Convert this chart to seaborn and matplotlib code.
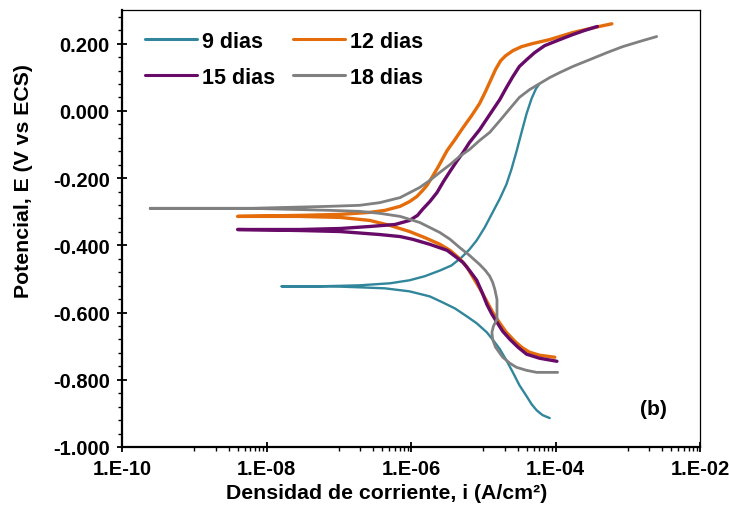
import numpy as np
import pandas as pd
import matplotlib
matplotlib.use("Agg")
import matplotlib.pyplot as plt
from matplotlib.ticker import FixedLocator, FuncFormatter, MultipleLocator
from matplotlib.lines import Line2D
import seaborn as sns

# Curvas de polarización potenciodinámica: log10(i) con i en A/cm², E en V vs ECS
series = ["9 dias", "12 dias", "15 dias", "18 dias"]
colores = ["#31869B", "#E46C0A", "#680A68", "#808080"]
grosores = [1.7, 2.4, 2.4, 2.0]

# 9 días
logi_anod_9 = [-7.79, -7.26, -6.71, -6.29, -6.02, -5.81, -5.60, -5.44, -5.30, -5.19, -5.09,
               -4.98, -4.87, -4.77, -4.68, -4.61, -4.54, -4.47, -4.40, -4.33, -4.27, -4.23]
E_anod_9 = [-0.522, -0.522, -0.519, -0.513, -0.504, -0.492, -0.475, -0.460, -0.436, -0.412, -0.385,
            -0.347, -0.302, -0.261, -0.219, -0.174, -0.121, -0.064, -0.008, 0.037, 0.066, 0.078]
logi_cat_9 = [-7.79, -7.12, -6.71, -6.36, -6.02, -5.74, -5.56, -5.39, -5.23, -5.09, -4.95,
              -4.86, -4.77, -4.68, -4.59, -4.50, -4.40, -4.33, -4.26, -4.18, -4.08]
E_cat_9 = [-0.522, -0.522, -0.525, -0.528, -0.537, -0.552, -0.570, -0.588, -0.611, -0.632, -0.659,
           -0.683, -0.709, -0.742, -0.778, -0.816, -0.849, -0.873, -0.891, -0.905, -0.914]

# 12 días
logi_anod_12 = [-8.40, -7.54, -6.98, -6.57, -6.36, -6.15, -6.02, -5.92, -5.84, -5.78, -5.71,
                -5.63, -5.50, -5.39, -5.28, -5.16, -5.05, -4.97, -4.90, -4.83, -4.76, -4.69,
                -4.59, -4.47, -4.32, -4.08, -3.76, -3.46, -3.22]
E_anod_12 = [-0.314, -0.311, -0.308, -0.302, -0.296, -0.284, -0.270, -0.255, -0.237, -0.222, -0.198,
             -0.169, -0.118, -0.085, -0.050, -0.014, 0.022, 0.057, 0.090, 0.123, 0.149, 0.164,
             0.179, 0.191, 0.200, 0.212, 0.233, 0.248, 0.259]
logi_cat_12 = [-8.40, -7.54, -6.98, -6.57, -6.29, -6.02, -5.81, -5.60, -5.46, -5.33, -5.23,
               -5.15, -5.05, -4.95, -4.87, -4.77, -4.68, -4.56, -4.47, -4.36, -4.22, -4.01]
E_cat_12 = [-0.314, -0.314, -0.317, -0.326, -0.341, -0.359, -0.377, -0.397, -0.415, -0.439, -0.463,
            -0.492, -0.528, -0.567, -0.599, -0.632, -0.659, -0.686, -0.703, -0.718, -0.727, -0.733]

# 15 días
logi_anod_15 = [-8.40, -7.54, -6.98, -6.57, -6.22, -6.02, -5.91, -5.84, -5.74, -5.64, -5.55,
                -5.46, -5.37, -5.28, -5.19, -5.05, -4.91, -4.77, -4.68, -4.59, -4.50, -4.40,
                -4.29, -4.15, -3.94, -3.76, -3.60, -3.42]
E_anod_15 = [-0.353, -0.353, -0.350, -0.344, -0.338, -0.326, -0.311, -0.293, -0.270, -0.243, -0.210,
             -0.180, -0.151, -0.124, -0.094, -0.056, -0.011, 0.034, 0.069, 0.102, 0.132, 0.152,
             0.173, 0.194, 0.212, 0.227, 0.239, 0.251]
logi_cat_15 = [-8.40, -7.54, -6.98, -6.43, -6.15, -5.98, -5.74, -5.50, -5.37, -5.28, -5.19,
               -5.09, -5.01, -4.95, -4.88, -4.81, -4.73, -4.63, -4.52, -4.40, -4.22, -3.98]
E_cat_15 = [-0.353, -0.356, -0.359, -0.368, -0.374, -0.382, -0.397, -0.415, -0.436, -0.451, -0.475,
            -0.504, -0.543, -0.576, -0.605, -0.629, -0.656, -0.680, -0.703, -0.724, -0.736, -0.745]

# 18 días
logi_anod_18 = [-9.61, -8.23, -7.12, -6.71, -6.43, -6.15, -5.88, -5.74, -5.60, -5.46, -5.33,
                -5.19, -5.05, -4.91, -4.77, -4.63, -4.50, -4.36, -4.22, -4.08, -3.94, -3.76,
                -3.53, -3.29, -3.07, -2.84, -2.60]
E_anod_18 = [-0.290, -0.290, -0.284, -0.281, -0.273, -0.258, -0.228, -0.207, -0.183, -0.160, -0.136,
             -0.115, -0.088, -0.064, -0.029, 0.007, 0.040, 0.063, 0.081, 0.099, 0.114, 0.132,
             0.152, 0.173, 0.191, 0.206, 0.221]
logi_cat_18 = [-9.61, -8.23, -7.12, -6.71, -6.43, -6.15, -5.88, -5.60, -5.46, -5.33, -5.19,
               -5.05, -4.97, -4.91, -4.87, -4.84, -4.81, -4.81, -4.81, -4.86, -4.88, -4.87,
               -4.83, -4.73, -4.63, -4.54, -4.40, -4.26, -3.97]
E_cat_18 = [-0.290, -0.290, -0.296, -0.299, -0.305, -0.314, -0.332, -0.362, -0.382, -0.406, -0.430,
            -0.457, -0.475, -0.492, -0.510, -0.531, -0.561, -0.590, -0.620, -0.641, -0.659, -0.680,
            -0.703, -0.733, -0.751, -0.763, -0.772, -0.778, -0.778]

ramas = {
    "9 dias": (logi_cat_9, E_cat_9, logi_anod_9, E_anod_9),
    "12 dias": (logi_cat_12, E_cat_12, logi_anod_12, E_anod_12),
    "15 dias": (logi_cat_15, E_cat_15, logi_anod_15, E_anod_15),
    "18 dias": (logi_cat_18, E_cat_18, logi_anod_18, E_anod_18),
}

# Cada curva se recorre desde el extremo catódico, pasando por Ecorr, hasta el anódico
filas = []
for s in series:
    lc, Ec, la, Ea = ramas[s]
    l_tot = list(lc[::-1]) + list(la[1:])
    E_tot = list(Ec[::-1]) + list(Ea[1:])
    for k, (lv, ev) in enumerate(zip(l_tot, E_tot)):
        filas.append({"serie": s, "orden": k, "i": 10.0 ** lv, "E": ev})
df = pd.DataFrame(filas)

sns.set_theme(style="white")
plt.rcParams["font.family"] = ["Liberation Sans", "DejaVu Sans"]
plt.rcParams["font.weight"] = "bold"
plt.rcParams["text.color"] = "black"
plt.rcParams["axes.labelcolor"] = "black"
plt.rcParams["xtick.color"] = "black"
plt.rcParams["ytick.color"] = "black"

fig = plt.figure(figsize=(7.29, 5.10), dpi=100)
ax = fig.add_axes([122 / 729, 1 - 448 / 510, 578 / 729, 437 / 510])

for s, c, lw in zip(series, colores, grosores):
    sns.lineplot(data=df[df["serie"] == s], x="i", y="E", sort=False,
                 estimator=None, color=c, linewidth=lw, ax=ax, legend=False)

ax.set_xscale("log")
ax.set_xlim(1e-10, 1e-2)
ax.set_ylim(-1.0, 0.3)

ax.xaxis.set_major_locator(FixedLocator([1e-10, 1e-8, 1e-6, 1e-4, 1e-2]))
menores = [k * 10.0 ** n for n in (-9, -7, -5, -3) for k in range(1, 10)]
ax.xaxis.set_minor_locator(FixedLocator(menores))
ax.xaxis.set_major_formatter(FuncFormatter(lambda v, p: f"1.E{int(round(np.log10(v))):+03d}"))
ax.xaxis.set_minor_formatter(FuncFormatter(lambda v, p: ""))

ax.yaxis.set_major_locator(MultipleLocator(0.2))
ax.yaxis.set_minor_locator(MultipleLocator(0.04))
ax.yaxis.set_major_formatter(FuncFormatter(lambda v, p: f"{v:.3f}"))

ax.tick_params(axis="both", which="major", direction="inout", length=7.5, width=1.3,
               labelsize=14.5, color="black", labelcolor="black", pad=5,
               bottom=True, left=True, top=False, right=False)
ax.tick_params(axis="both", which="minor", direction="out", length=3.2, width=1.0,
               color="black", bottom=True, left=True, top=False, right=False)
for lab in ax.get_xticklabels() + ax.get_yticklabels():
    lab.set_fontweight("bold")

for lado in ["left", "bottom"]:
    ax.spines[lado].set_linewidth(1.6)
    ax.spines[lado].set_color("black")
for lado in ["top", "right"]:
    ax.spines[lado].set_linewidth(0.9)
    ax.spines[lado].set_color("black")

ax.set_xlabel("Densidad de corriente, i (A/cm²)", fontsize=15.3, fontweight="bold", color="black")
ax.set_ylabel("Potencial, E (V vs ECS)", fontsize=15.3, fontweight="bold", color="black")
ax.xaxis.set_label_coords(0.457, -0.082)
ax.yaxis.set_label_coords(-0.154, 0.61)

manijas = [Line2D([], [], color=colores[k], linewidth=2.2) for k in range(4)]
orden = [0, 2, 1, 3]
ax.legend([manijas[k] for k in orden], [series[k] for k in orden], ncol=2,
          frameon=False, loc="upper left", bbox_to_anchor=(0.0398, 0.952),
          borderaxespad=0, borderpad=0, labelcolor="black",
          prop={"size": 15.5, "weight": "bold"}, handlelength=2.42,
          handletextpad=0.25, columnspacing=0.8, labelspacing=0.68)

ax.text(0.919, 0.087, "(b)", transform=ax.transAxes, fontsize=15,
        fontweight="bold", ha="center", va="center", color="black")

fig.savefig("out.png", dpi=100)
